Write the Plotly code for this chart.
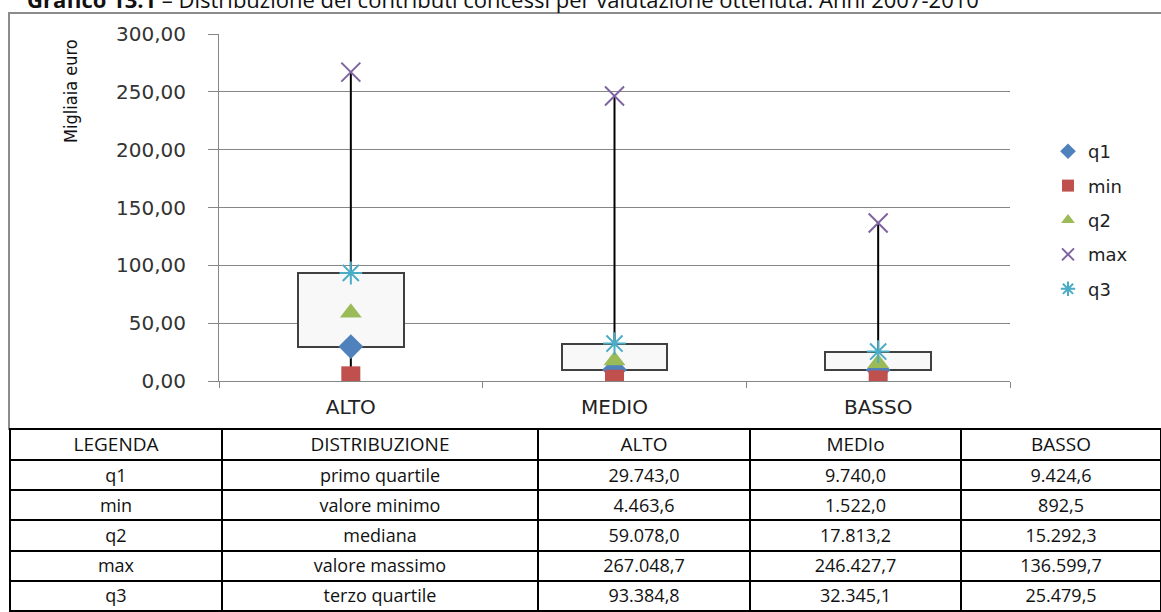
import plotly.graph_objects as go

# ---------------- data (euro) ----------------
categories = ["ALTO", "MEDIO", "BASSO"]
table_categories = ["ALTO", "MEDIo", "BASSO"]
q1_vals = [29743.0, 9740.0, 9424.6]
min_vals = [4463.6, 1522.0, 892.5]
q2_vals = [59078.0, 17813.2, 15292.3]
max_vals = [267048.7, 246427.7, 136599.7]
q3_vals = [93384.8, 32345.1, 25479.5]
legend_codes = ["q1", "min", "q2", "max", "q3"]
legend_desc = ["primo quartile", "valore minimo", "mediana", "valore massimo", "terzo quartile"]
y_ticks = [0, 50, 100, 150, 200, 250, 300]

W, H = 1161, 612


def k(v):
    return [x / 1000.0 for x in v]


def it(v):
    s = f"{v:,.1f}"
    return s.replace(",", "#").replace(".", ",").replace("#", ".")


def px_x(p):
    return p / W


def px_y(p):
    return 1 - p / H


fig = go.Figure()

# whiskers
wx, wy = [], []
for c, mn, a, b, mx in zip(categories, k(min_vals), k(q1_vals), k(q3_vals), k(max_vals)):
    wx += [c, c, None, c, c, None]
    wy += [mx, b, None, a, mn, None]
fig.add_trace(go.Scatter(x=wx, y=wy, mode="lines", line=dict(color="#000000", width=2),
                         showlegend=False, hoverinfo="skip"))

# boxes q1..q3
fig.add_trace(go.Bar(x=categories, y=[b - a for a, b in zip(k(q1_vals), k(q3_vals))], base=k(q1_vals),
                     width=0.4, marker=dict(color="#f8f8f8", line=dict(color="#404040", width=2)),
                     showlegend=False, hoverinfo="skip"))

series = [
    ("q1", q1_vals, "diamond", "#4F81BD", None),
    ("min", min_vals, "square", "#C0504D", None),
    ("q2", q2_vals, "triangle-up", "#9BBB59", None),
    ("max", max_vals, "x-thin-open", "#8064A2", 2),
    ("q3", q3_vals, "asterisk-open", "#4BACC6", 2),
]
for name, vals, sym, col, lw in series:
    mk = dict(symbol=sym, color=col, size=19)
    if lw:
        mk["line"] = dict(color=col, width=lw)
    else:
        mk["line"] = dict(width=0)
    fig.add_trace(go.Scatter(x=categories, y=k(vals), mode="markers", name=name, marker=mk,
                             legendgroup=name))

# table columns
rows = (q1_vals, min_vals, q2_vals, max_vals, q3_vals)
col_alto = [it(v[0]) for v in rows]
col_medio = [it(v[1]) for v in rows]
col_basso = [it(v[2]) for v in rows]

fig.add_trace(go.Table(
    domain=dict(x=[px_x(10), 1.0], y=[0, px_y(429)]),
    columnwidth=[212, 316, 212, 211, 200],
    header=dict(values=["LEGENDA", "DISTRIBUZIONE"] + table_categories,
                align="center", height=31,
                line=dict(color="#000000", width=2), fill=dict(color="white"),
                font=dict(family="Open Sans, sans-serif", size=19, color="#111111")),
    cells=dict(values=[legend_codes, legend_desc, col_alto, col_medio, col_basso],
               align="center", height=30.2,
               line=dict(color="#000000", width=2), fill=dict(color="white"),
               font=dict(family="Open Sans, sans-serif", size=18, color="#111111")),
))

fig.update_layout(
    width=W, height=H,
    margin=dict(l=0, r=0, t=0, b=0, autoexpand=False),
    paper_bgcolor="white", plot_bgcolor="white",
    separators=",.",
    showlegend=True,
    legend=dict(x=px_x(1048), y=px_y(133), xanchor="left", yanchor="top",
                font=dict(family="DejaVu Sans, sans-serif", size=18, color="#222222"),
                itemsizing="constant", tracegroupgap=8, bgcolor="rgba(0,0,0,0)"),
    xaxis=dict(domain=[px_x(219), px_x(1010)], type="category", categoryorder="array",
               categoryarray=categories, range=[-0.5, 2.5], automargin=False,
               showline=True, linecolor="#868686", linewidth=1,
               ticks="outside", tickson="boundaries", ticklen=6, tickcolor="#868686",
               showgrid=False, ticklabelstandoff=8,
               tickfont=dict(family="DejaVu Sans, sans-serif", size=20, color="#222222")),
    yaxis=dict(domain=[px_y(381), px_y(34)], range=[0, 300], tickvals=y_ticks, tickformat=".2f",
               automargin=False,
               showline=True, linecolor="#868686", linewidth=1,
               ticks="outside", ticklen=10, tickcolor="#868686",
               showgrid=True, gridcolor="#868686", gridwidth=1, zeroline=False,
               ticklabelstandoff=18,
               tickfont=dict(family="DejaVu Sans, sans-serif", size=20, color="#333333")),
    bargap=0,
)

# chart frame
fig.add_shape(type="rect", xref="paper", yref="paper",
              x0=px_x(9), x1=1.05, y0=px_y(429), y1=px_y(13),
              line=dict(color="#8c8c8c", width=2), fillcolor="rgba(0,0,0,0)", layer="below")

# y-axis title
fig.add_annotation(text="Migliaia euro", xref="paper", yref="paper",
                   x=px_x(70), y=px_y(91), textangle=-90, showarrow=False,
                   xanchor="center", yanchor="middle",
                   font=dict(family="Liberation Sans Narrow, DejaVu Sans Condensed, Arial Narrow, sans-serif",
                             size=18, color="#111111"))

# title (cut at the top, as in the reference)
fig.add_annotation(text="<b>Grafico 13.1</b> – Distribuzione dei contributi concessi per valutazione ottenuta. Anni 2007-2010",
                   xref="paper", yref="paper", x=px_x(25), y=px_y(-1), xanchor="left", yanchor="middle",
                   showarrow=False,
                   font=dict(family="Open Sans, sans-serif", size=22, color="#111111"))

fig.write_html("out.html", config={"displayModeBar": False},
               post_script="document.body.style.margin='0';")
